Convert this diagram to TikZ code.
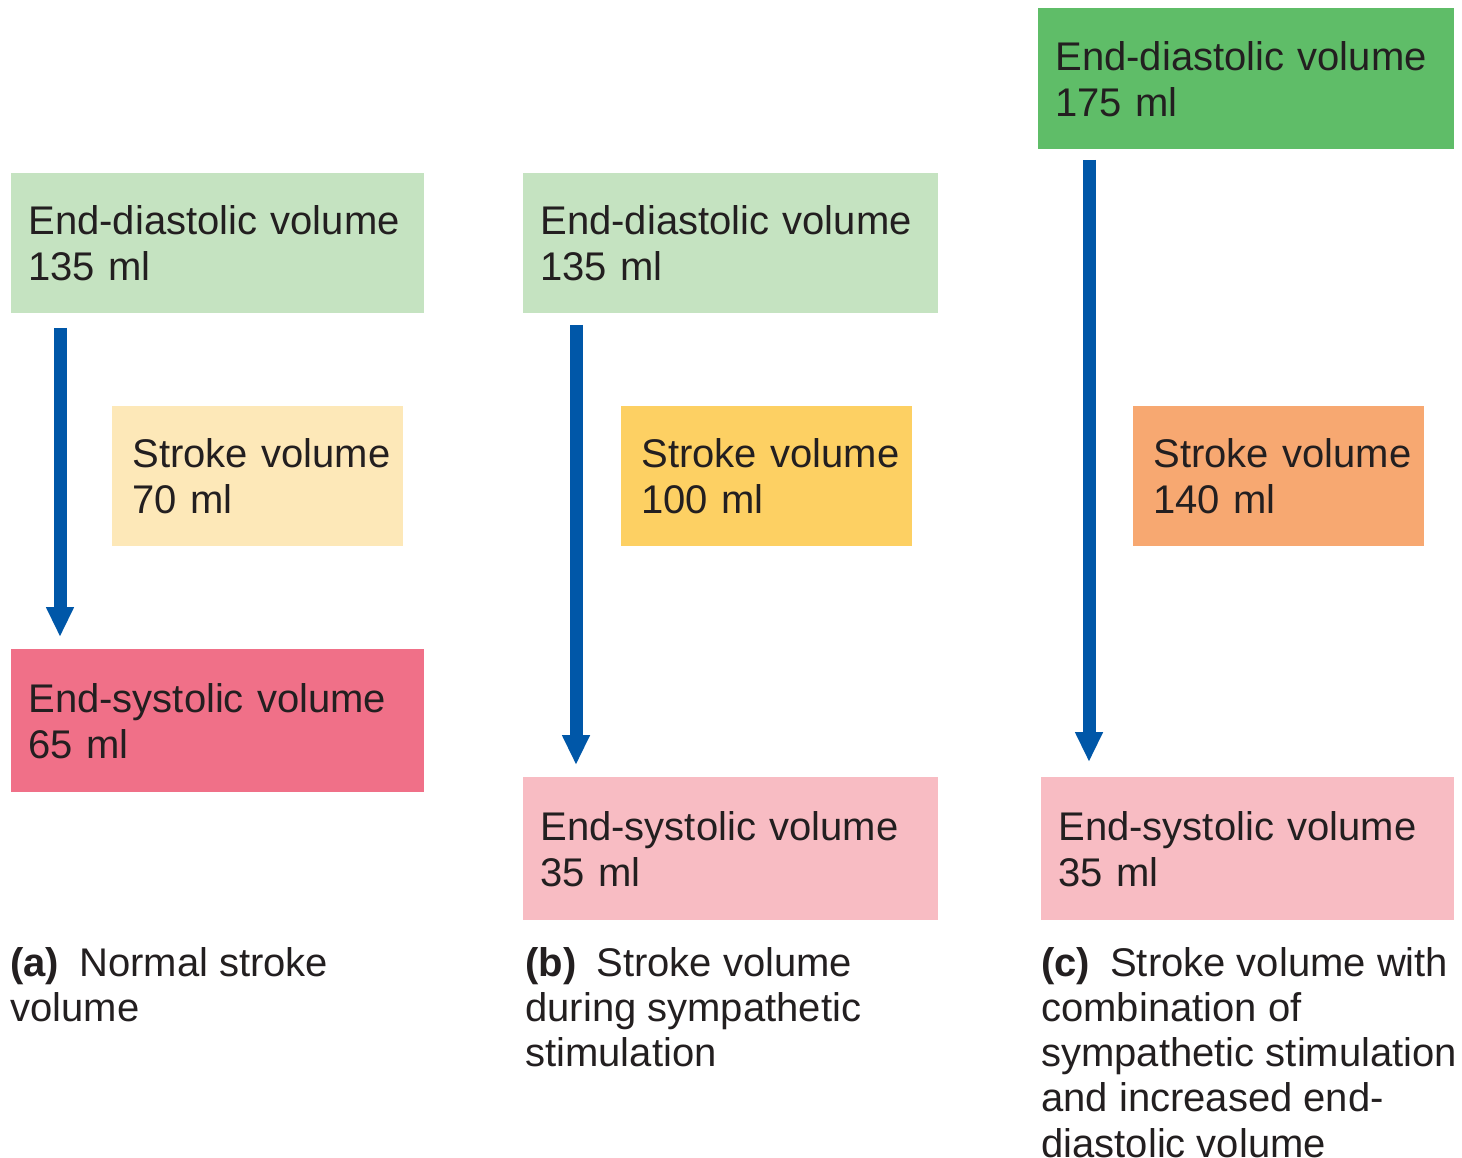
\documentclass[tikz,border=0pt]{standalone}
\usepackage{fontspec}
\setmainfont{Liberation Sans}
\usetikzlibrary{arrows.meta,calc}
\definecolor{txt}{HTML}{231F20}
\definecolor{lgreen}{HTML}{C5E3C1}
\definecolor{dgreen}{HTML}{5FBD68}
\definecolor{lyellow}{HTML}{FDE8B8}
\definecolor{dyellow}{HTML}{FDD063}
\definecolor{orng}{HTML}{F7A871}
\definecolor{dpink}{HTML}{F07088}
\definecolor{lpink}{HTML}{F8BCC3}
\definecolor{arrblue}{HTML}{0057A8}
\tikzset{
  box/.style={anchor=north west, inner xsep=8.5pt, inner ysep=0pt, align=left,
    text=txt, font=\fontsize{20}{23}\selectfont},
  sbox/.style={box, inner xsep=10pt, minimum width=145.5pt, minimum height=70pt, text width=125.5pt},
  arr/.style={draw=arrblue, line width=6.5pt, -{Triangle[width=13pt,length=15pt]}},
  captxt/.style={anchor=north west, inner sep=0pt, align=left, text=txt,
    font=\fontsize{20}{22.6}\selectfont}
}
\begin{document}
\begin{tikzpicture}[x=0.5pt,y=-0.5pt]
\useasboundingbox (0,0) rectangle (1462,1157);
% column a
\node[box, fill=lgreen, minimum width=206.5pt, minimum height=70pt, text width=189.5pt] (A1) at (11,173) {End-diastolic volume\\135 ml};
\node[sbox, fill=lyellow] (A2) at (112,406) {\mbox{Stroke volume}\\70 ml};
\node[box, fill=dpink, minimum width=206.5pt, minimum height=71.5pt, text width=189.5pt] (A3) at (11,649) {End-systolic volume\\65 ml};
\draw[arr] ($(A1.south west)+(49,14)$) -- ($(A3.north west)+(49,-12)$);
% column b
\node[box, fill=lgreen, minimum width=207.5pt, minimum height=70pt, text width=190.5pt] (B1) at (523,173) {End-diastolic volume\\135 ml};
\node[sbox, fill=dyellow] (B2) at (621,406) {\mbox{Stroke volume}\\100 ml};
\node[box, fill=lpink, minimum width=207.5pt, minimum height=71.5pt, text width=190.5pt] (B3) at (523,777) {End-systolic volume\\35 ml};
\draw[arr] ($(B1.south west)+(53,11)$) -- ($(B3.north west)+(53,-12)$);
% column c
\node[box, fill=dgreen, minimum width=208pt, minimum height=70.5pt, text width=191pt] (C1) at (1038,8) {End-diastolic volume\\175 ml};
\node[sbox, fill=orng] (C2) at (1133,406) {\mbox{Stroke volume}\\140 ml};
\node[box, fill=lpink, minimum width=206.5pt, minimum height=71.5pt, text width=189.5pt] (C3) at (1041,777) {End-systolic volume\\35 ml};
\draw[arr] ($(C1.south west)+(51,10)$) -- ($(C3.north west)+(48,-15)$);
% captions
\node[captxt] (capA) at (10,947) {\textbf{(a)}\enspace Normal stroke\\volume};
\node[captxt] (capB) at (525,947) {\textbf{(b)}\enspace Stroke volume\\during sympathetic\\stimulation};
\node[captxt] (capC) at (1041,947) {\textbf{(c)}\enspace Stroke volume with\\combination of\\sympathetic stimulation\\and increased end-\\diastolic volume};
\end{tikzpicture}
\end{document}
